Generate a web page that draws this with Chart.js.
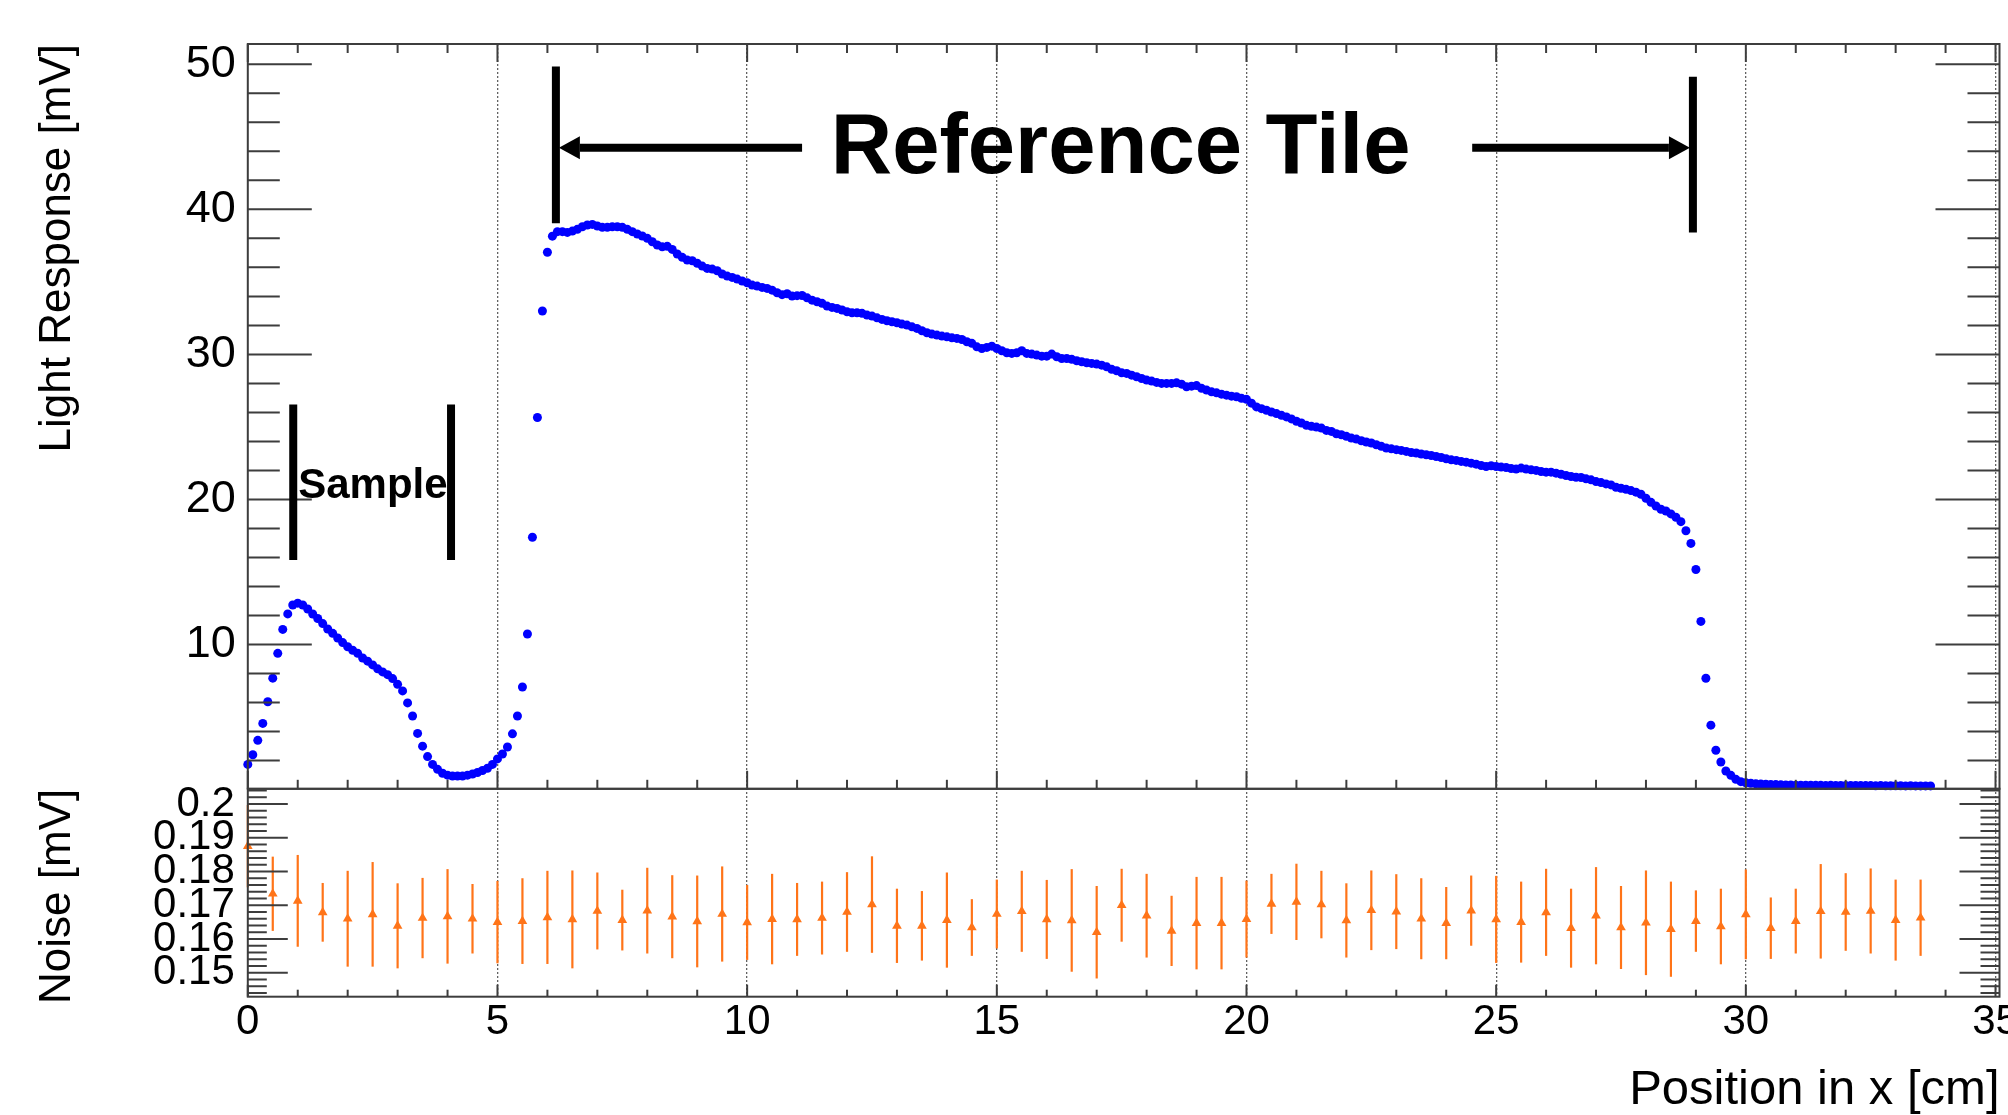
<!DOCTYPE html>
<html>
<head>
<meta charset="utf-8">
<script src="https://cdn.jsdelivr.net/npm/chart.js@4.4.0/dist/chart.umd.min.js"></script>
<style>
  html, body { margin: 0; padding: 0; background: #fff; }
</style>
</head>
<body>
<canvas id="scan" width="2008" height="1115"></canvas>
<script>
// light response, one point every 1 mm from x = 0
const lightStep = 0.1;
const lightResponse = [
  1.73, 2.40, 3.39, 4.56, 6.05, 7.68, 9.39, 11.04, 12.11, 12.72,
  12.85, 12.72, 12.45, 12.10, 11.79, 11.44, 11.07, 10.77, 10.45, 10.13,
  9.84, 9.60, 9.39, 9.07, 8.85, 8.59, 8.32, 8.11, 7.92, 7.65,
  7.25, 6.80, 5.97, 5.07, 3.87, 2.99, 2.27, 1.73, 1.39, 1.12,
  0.99, 0.93, 0.93, 0.93, 0.99, 1.07, 1.17, 1.31, 1.47, 1.73,
  2.11, 2.45, 2.93, 3.84, 5.07, 7.07, 10.72, 17.39, 25.65, 32.99,
  37.04, 38.15, 38.46, 38.46, 38.41, 38.50, 38.62, 38.80, 38.92, 38.96,
  38.85, 38.76, 38.76, 38.80, 38.80, 38.76, 38.62, 38.46, 38.30, 38.16,
  38.00, 37.77, 37.54, 37.42, 37.45, 37.24, 36.92, 36.69, 36.50, 36.46,
  36.28, 36.09, 35.93, 35.88, 35.77, 35.54, 35.40, 35.31, 35.19, 35.06,
  34.94, 34.78, 34.71, 34.62, 34.55, 34.43, 34.25, 34.12, 34.18, 34.02,
  34.05, 34.06, 33.90, 33.74, 33.63, 33.52, 33.33, 33.24, 33.17, 33.06,
  32.94, 32.87, 32.87, 32.83, 32.71, 32.64, 32.52, 32.41, 32.32, 32.25,
  32.18, 32.09, 32.02, 31.90, 31.79, 31.63, 31.49, 31.40, 31.33, 31.26,
  31.21, 31.14, 31.10, 31.03, 30.87, 30.76, 30.52, 30.41, 30.48, 30.57,
  30.41, 30.25, 30.11, 30.07, 30.11, 30.25, 30.07, 30.02, 29.95, 29.88,
  29.88, 30.02, 29.84, 29.72, 29.72, 29.66, 29.56, 29.49, 29.42, 29.38,
  29.33, 29.26, 29.14, 28.97, 28.87, 28.73, 28.69, 28.57, 28.46, 28.34,
  28.23, 28.16, 28.07, 28.00, 28.00, 28.00, 28.04, 27.95, 27.77, 27.81,
  27.85, 27.66, 27.54, 27.42, 27.35, 27.26, 27.19, 27.12, 27.08, 26.97,
  26.90, 26.64, 26.38, 26.26, 26.15, 26.03, 25.92, 25.80, 25.69, 25.55,
  25.39, 25.27, 25.11, 25.04, 24.99, 24.92, 24.76, 24.69, 24.53, 24.46,
  24.35, 24.23, 24.16, 24.05, 23.96, 23.89, 23.77, 23.66, 23.54, 23.49,
  23.43, 23.38, 23.31, 23.24, 23.20, 23.13, 23.08, 23.03, 22.96, 22.89,
  22.80, 22.73, 22.69, 22.62, 22.57, 22.50, 22.43, 22.34, 22.27, 22.32,
  22.27, 22.23, 22.20, 22.13, 22.09, 22.16, 22.09, 22.04, 22.00, 21.93,
  21.88, 21.88, 21.81, 21.74, 21.65, 21.58, 21.53, 21.51, 21.42, 21.35,
  21.23, 21.16, 21.07, 21.00, 20.84, 20.77, 20.70, 20.61, 20.50, 20.36,
  20.08, 19.80, 19.55, 19.32, 19.20, 19.00, 18.77, 18.47, 17.84, 16.97,
  15.17, 11.59, 7.67, 4.44, 2.71, 1.90, 1.28, 0.98, 0.70, 0.54,
  0.47, 0.43, 0.40, 0.38, 0.36, 0.35, 0.34, 0.33, 0.32, 0.31,
  0.30, 0.30, 0.29, 0.30, 0.29, 0.29, 0.28, 0.29, 0.28, 0.28,
  0.28, 0.27, 0.28, 0.27, 0.27, 0.27, 0.26, 0.27, 0.26, 0.26,
  0.26, 0.26, 0.25, 0.26, 0.25, 0.25, 0.25, 0.25
];

// noise, one point every 5 mm from x = 0
const noiseStep = 0.5;
const noiseValue = [
  0.1875, 0.1734, 0.1713, 0.1679, 0.1660, 0.1673, 0.1639, 0.1662, 0.1667, 0.1660,
  0.1650, 0.1653, 0.1664, 0.1658, 0.1683, 0.1656, 0.1684, 0.1666, 0.1652, 0.1674,
  0.1649, 0.1659, 0.1658, 0.1662, 0.1680, 0.1702, 0.1639, 0.1639, 0.1656, 0.1634,
  0.1674, 0.1682, 0.1658, 0.1655, 0.1620, 0.1700, 0.1669, 0.1624, 0.1647, 0.1647,
  0.1659, 0.1704, 0.1710, 0.1702, 0.1655, 0.1685, 0.1681, 0.1660, 0.1647, 0.1684,
  0.1658, 0.1650, 0.1679, 0.1632, 0.1669, 0.1634, 0.1648, 0.1629, 0.1653, 0.1637,
  0.1673, 0.1632, 0.1653, 0.1682, 0.1680, 0.1683, 0.1656, 0.1663
];
const noiseError = [
  0.0122, 0.0110, 0.0136, 0.0087, 0.0142, 0.0155, 0.0126, 0.0119, 0.0140, 0.0103,
  0.0122, 0.0127, 0.0138, 0.0145, 0.0114, 0.0090, 0.0127, 0.0123, 0.0136, 0.0141,
  0.0111, 0.0134, 0.0108, 0.0108, 0.0118, 0.0143, 0.0110, 0.0103, 0.0141, 0.0084,
  0.0102, 0.0120, 0.0117, 0.0152, 0.0137, 0.0108, 0.0124, 0.0104, 0.0137, 0.0137,
  0.0114, 0.0089, 0.0113, 0.0100, 0.0110, 0.0118, 0.0111, 0.0120, 0.0107, 0.0104,
  0.0129, 0.0120, 0.0129, 0.0117, 0.0144, 0.0123, 0.0155, 0.0141, 0.0091, 0.0112,
  0.0133, 0.0091, 0.0096, 0.0140, 0.0115, 0.0126, 0.0120, 0.0113
];

// tick labels
const xLabels = [0, 5, 10, 15, 20, 25, 30, 35];
const lightLabels = [10, 20, 30, 40, 50];
const noiseLabels = [0.15, 0.16, 0.17, 0.18, 0.19, 0.2];

const FONT = "'Liberation Sans', Arial, Helvetica, sans-serif";
const FRAME = '#3d3d3d';
const BLUE = '#0000ff';
const ORANGE = '#ff7418';

const near = (a, b) => Math.abs(a - b) < 1e-7;

// ROOT style frame + inner ticks, error bars, and the drawn annotations
const rootStyle = {
  id: 'rootStyle',
  beforeDatasetsDraw(chart) {
    const { ctx, scales: { x, yN } } = chart;
    ctx.save();
    ctx.strokeStyle = ORANGE;
    ctx.lineWidth = 2.2;
    noiseValue.forEach((v, i) => {
      const px = x.getPixelForValue(i * noiseStep);
      ctx.beginPath();
      ctx.moveTo(px, yN.getPixelForValue(v - noiseError[i]));
      ctx.lineTo(px, yN.getPixelForValue(v + noiseError[i]));
      ctx.stroke();
    });
    ctx.restore();
  },
  afterDatasetsDraw(chart) {
    const { ctx, scales: { x, y, yN } } = chart;
    ctx.save();
    ctx.strokeStyle = FRAME;
    ctx.lineWidth = 2;
    const seg = (x0, y0, x1, y1) => {
      ctx.beginPath(); ctx.moveTo(x0, y0); ctx.lineTo(x1, y1); ctx.stroke();
    };
    const panel = (ys, major, yLong, yShort, xLong, xShort, topTicks) => {
      const l = x.left, r = x.right, t = ys.top, b = ys.bottom;
      ctx.strokeRect(l, t, r - l, b - t);
      ys.ticks.forEach(tk => {
        const py = ys.getPixelForValue(tk.value);
        const m = Math.abs(tk.value / major - Math.round(tk.value / major)) < 1e-6;
        const len = m ? yLong : yShort;
        seg(l, py, l + len, py);
        seg(r, py, r - len, py);
      });
      x.ticks.forEach(tk => {
        if (!near(tk.value, Math.round(tk.value))) return;
        const px = x.getPixelForValue(tk.value);
        const len = tk.value % 5 === 0 ? xLong : xShort;
        seg(px, b, px, b - len);
        if (topTicks) seg(px, t, px, t + len);
      });
    };
    panel(y, 10, 64, 32, 18, 9, true);
    panel(yN, 0.01, 40, 19, 12, 7, false);

    // annotations
    ctx.strokeStyle = '#000';
    ctx.fillStyle = '#000';
    ctx.lineWidth = 8;
    const X = v => x.getPixelForValue(v);
    const Y = v => y.getPixelForValue(v);
    const bar = (xv, y0, y1) => seg(X(xv), Y(y0), X(xv), Y(y1));
    const arrow = (fromX, tipX, yv) => {
      const dir = Math.sign(tipX - fromX);
      const tx = X(tipX), py = Y(yv), base = tx - dir * 21;
      seg(X(fromX), py, base, py);
      ctx.beginPath();
      ctx.moveTo(tx, py);
      ctx.lineTo(base, py - 11.5);
      ctx.lineTo(base, py + 11.5);
      ctx.closePath();
      ctx.fill();
    };
    bar(6.17, 39.05, 49.85);
    bar(28.94, 38.4, 49.15);
    arrow(11.1, 6.23, 44.25);
    arrow(24.52, 28.88, 44.25);
    bar(0.91, 15.82, 26.55);
    bar(4.07, 15.82, 26.55);

    ctx.textBaseline = 'alphabetic';
    ctx.textAlign = 'center';
    ctx.font = 'bold 85px ' + FONT;
    ctx.fillText('Reference Tile', X(17.48), Y(42.48));
    ctx.textAlign = 'left';
    ctx.font = 'bold 42px ' + FONT;
    ctx.fillText('Sample', X(1.01), Y(20.09));
    ctx.restore();
  }
};

new Chart(document.getElementById('scan'), {
  type: 'scatter',
  data: {
    datasets: [{
      label: 'Light Response',
      data: lightResponse.map((v, i) => ({ x: i * lightStep, y: v })),
      yAxisID: 'y',
      pointStyle: 'circle',
      pointRadius: 4.5,
      pointBorderWidth: 0,
      backgroundColor: BLUE,
      borderColor: BLUE,
      clip: false
    }, {
      label: 'Noise',
      data: noiseValue.map((v, i) => ({ x: i * noiseStep, y: v })),
      yAxisID: 'yN',
      pointStyle: 'triangle',
      pointRadius: 5.6,
      pointBorderWidth: 0,
      backgroundColor: ORANGE,
      borderColor: ORANGE,
      clip: false
    }]
  },
  options: {
    responsive: false,
    devicePixelRatio: 1,
    animation: false,
    events: [],
    layout: { padding: { top: 44, right: 8.5, bottom: 0, left: 0 } },
    plugins: { legend: { display: false }, tooltip: { enabled: false } },
    scales: {
      x: {
        type: 'linear',
        min: 0,
        max: 35.08,
        afterFit: s => { s.height = 118.3; s.paddingRight = 0; },
        ticks: {
          stepSize: 1,
          includeBounds: false,
          autoSkip: false,
          maxRotation: 0,
          padding: 5,
          color: '#000',
          font: { family: FONT, size: 42, lineHeight: 1 },
          callback: v => (xLabels.some(l => near(l, v)) ? String(v) : '')
        },
        grid: {
          drawTicks: false,
          lineWidth: 1.3,
          color: c => {
            const v = c.tick ? c.tick.value : 0;
            return v > 0 && near(v % 5, 0) ? 'rgba(70,70,70,0.85)' : 'rgba(0,0,0,0)';
          }
        },
        border: { display: false, dash: [2, 2] },
        title: {
          display: true,
          text: 'Position in x [cm]',
          align: 'end',
          color: '#000',
          font: { family: FONT, size: 49, lineHeight: 1 },
          padding: { top: 0, bottom: 0 }
        }
      },
      y: {
        type: 'linear',
        position: 'left',
        stack: 'panels',
        stackWeight: 744.8,
        weight: 1,
        min: 0.05,
        max: 51.4,
        afterFit: s => { s.width = 247.8; },
        ticks: {
          stepSize: 2,
          includeBounds: false,
          autoSkip: false,
          padding: 12,
          color: '#000',
          font: { family: FONT, size: 45, lineHeight: 1 },
          callback: v => (lightLabels.some(l => near(l, v)) ? String(v) : '')
        },
        grid: { display: false, drawTicks: false },
        border: { display: false },
        title: {
          display: true,
          text: 'Light Response [mV]',
          align: 'end',
          color: '#000',
          font: { family: FONT, size: 44, lineHeight: 1 },
          padding: { top: 36, bottom: 0 }
        }
      },
      yN: {
        type: 'linear',
        position: 'left',
        stack: 'panels',
        stackWeight: 207.9,
        weight: 0,
        min: 0.1429,
        max: 0.2045,
        afterFit: s => { s.width = 247.8; },
        ticks: {
          stepSize: 0.002,
          includeBounds: false,
          autoSkip: false,
          padding: 13,
          color: '#000',
          font: { family: FONT, size: 42, lineHeight: 1 },
          callback: v => {
            const l = noiseLabels.find(n => near(n, v));
            return l === undefined ? '' : String(l);
          }
        },
        grid: { display: false, drawTicks: false },
        border: { display: false },
        title: {
          display: true,
          text: 'Noise [mV]',
          align: 'end',
          color: '#000',
          font: { family: FONT, size: 44, lineHeight: 1 },
          padding: { top: 36, bottom: 0 }
        }
      }
    }
  },
  plugins: [rootStyle]
});
</script>
</body>
</html>
